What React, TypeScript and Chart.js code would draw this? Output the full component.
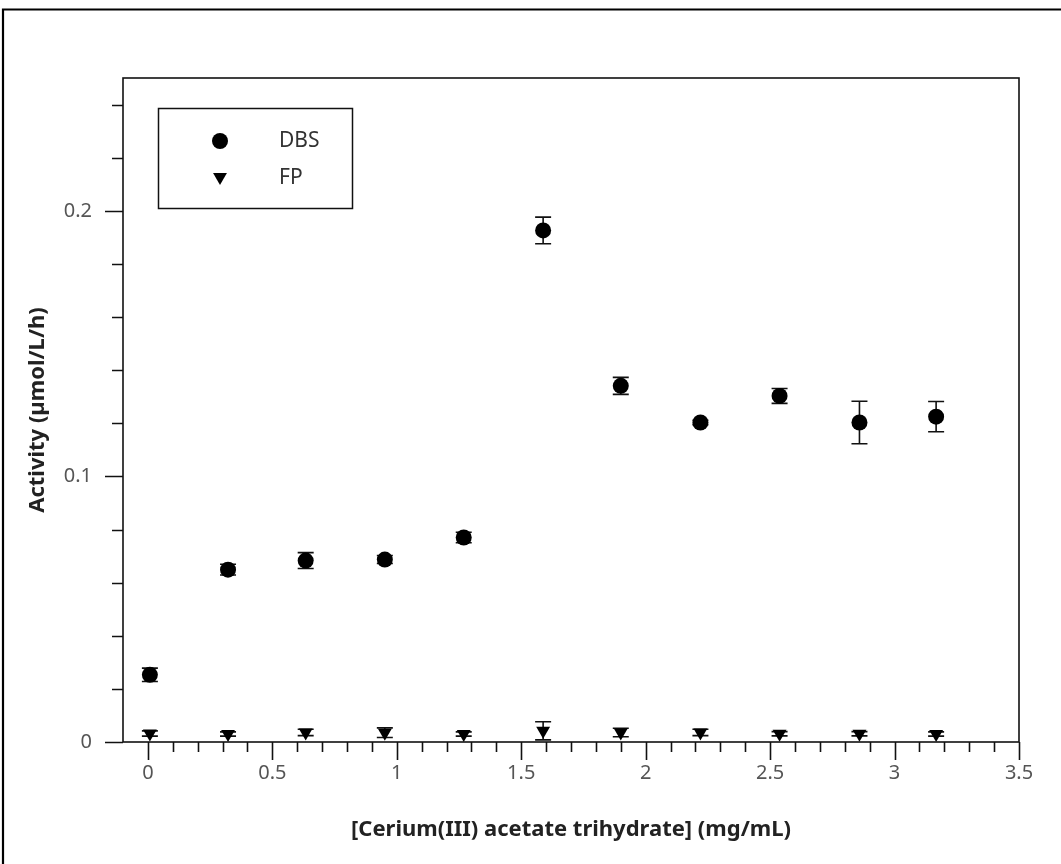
import React, { useEffect, useRef } from "react";
import { Chart, registerables } from "chart.js";

Chart.register(...registerables);

// ---- data ----
const concentrations = [0.008, 0.322, 0.634, 0.952, 1.269, 1.588, 1.9, 2.22, 2.538, 2.859, 3.167];
const dbsValues = [0.0253, 0.0649, 0.0683, 0.0687, 0.077, 0.1926, 0.1341, 0.1203, 0.1303, 0.1203, 0.1225];
const dbsErrors = [0.0025, 0.002, 0.003, 0.0015, 0.002, 0.005, 0.0032, 0.0008, 0.0028, 0.008, 0.0057];
const fpValues = [0.0032, 0.003, 0.0036, 0.0035, 0.003, 0.0042, 0.0036, 0.0036, 0.0031, 0.0031, 0.003];
const fpErrors = [0.001, 0.0008, 0.0012, 0.0018, 0.0008, 0.0034, 0.0016, 0.0012, 0.0008, 0.0008, 0.0008];

const xMajorTicks = [0, 0.5, 1, 1.5, 2, 2.5, 3, 3.5];
const xTickLabels = ["0", "0.5", "1", "1.5", "2", "2.5", "3", "3.5"];
const yMajorTicks = [0, 0.1, 0.2];
const yTickLabels = ["0", "0.1", "0.2"];

const seriesNames = ["DBS", "FP"];
const xTitle = "[Cerium(III) acetate trihydrate] (mg/mL)";
const yTitle = "Activity (µmol/L/h)";

const FONT = "'Noto Sans', 'Open Sans', sans-serif";

const near = (a: number, b: number) => Math.abs(a - b) < 1e-6;
const isMajor = (v: number, majors: number[]) => majors.some((m) => near(m, v));

function labelFor(v: number, majors: number[], labels: string[]) {
  const i = majors.findIndex((m) => near(m, v));
  return i >= 0 ? labels[i] : "";
}

const bgPlugin = {
  id: "bgFrame",
  beforeDraw(chart: any) {
    const ctx = chart.ctx;
    ctx.save();
    ctx.fillStyle = "#fff";
    ctx.fillRect(0, 0, chart.width, chart.height);
    ctx.strokeStyle = "#000";
    ctx.lineWidth = 2.2;
    ctx.beginPath();
    ctx.moveTo(3, chart.height);
    ctx.lineTo(3, 9.5);
    ctx.lineTo(chart.width, 9.5);
    ctx.stroke();
    ctx.restore();
  },
};

const errorPlugin = {
  id: "errorBars",
  beforeDatasetsDraw(chart: any) {
    const ctx = chart.ctx;
    const xs = chart.scales.x;
    const ys = chart.scales.y;
    ctx.save();
    ctx.strokeStyle = "#111";
    ctx.lineWidth = 1.6;
    chart.data.datasets.forEach((ds: any) => {
      const errs: number[] = ds.errors || [];
      ds.data.forEach((p: any, i: number) => {
        const e = errs[i] || 0;
        if (!e) return;
        const px = xs.getPixelForValue(p.x);
        const top = ys.getPixelForValue(p.y + e);
        const bot = ys.getPixelForValue(p.y - e);
        ctx.beginPath();
        ctx.moveTo(px, top);
        ctx.lineTo(px, bot);
        ctx.moveTo(px - 8, top);
        ctx.lineTo(px + 8, top);
        ctx.moveTo(px - 8, bot);
        ctx.lineTo(px + 8, bot);
        ctx.stroke();
      });
    });
    ctx.restore();
  },
};

function drawTriangleDown(ctx: CanvasRenderingContext2D, x: number, y: number, r: number) {
  ctx.beginPath();
  ctx.moveTo(x, y + r);
  ctx.lineTo(x - r * Math.sin(Math.PI / 3), y - r / 2);
  ctx.lineTo(x + r * Math.sin(Math.PI / 3), y - r / 2);
  ctx.closePath();
  ctx.fill();
}

const axesPlugin = {
  id: "axesFrame",
  afterDraw(chart: any) {
    const ctx = chart.ctx;
    const { left, right, top, bottom } = chart.chartArea;
    const xs = chart.scales.x;
    const ys = chart.scales.y;
    ctx.save();
    ctx.strokeStyle = "#111";
    ctx.lineWidth = 1.6;
    ctx.strokeRect(left, top, right - left, bottom - top);

    ctx.beginPath();
    xs.ticks.forEach((t: any) => {
      const v = t.value;
      if (v < -1e-6 || v > 3.5 + 1e-6) return;
      const px = Math.round(xs.getPixelForValue(v)) + 0.5;
      const len = isMajor(v, xMajorTicks) ? 18 : 10;
      ctx.moveTo(px, bottom);
      ctx.lineTo(px, bottom + len);
    });
    ys.ticks.forEach((t: any) => {
      const v = t.value;
      if (Math.abs(v / 0.02 - Math.round(v / 0.02)) > 1e-6) return;
      const py = Math.round(ys.getPixelForValue(v)) + 0.5;
      const len = isMajor(v, yMajorTicks) ? 18 : 11;
      ctx.moveTo(left, py);
      ctx.lineTo(left - len, py);
    });
    ctx.stroke();

    // legend
    const lx = left + 35;
    const ly = top + 30;
    ctx.lineWidth = 1.5;
    ctx.strokeRect(lx + 0.5, ly + 0.5, 194, 100);
    ctx.fillStyle = "#000";
    ctx.beginPath();
    ctx.arc(lx + 62, ly + 33, 8, 0, Math.PI * 2);
    ctx.fill();
    drawTriangleDown(ctx, lx + 62, ly + 69, 8);
    ctx.fillStyle = "#333";
    ctx.font = `21px ${FONT}`;
    ctx.textAlign = "left";
    ctx.textBaseline = "middle";
    ctx.fillText(seriesNames[0], lx + 121, ly + 33);
    ctx.fillText(seriesNames[1], lx + 121, ly + 70);
    ctx.restore();
  },
};

export default function App() {
  const ref = useRef<HTMLCanvasElement | null>(null);
  useEffect(() => {
    if (!ref.current) return;
    const chart = new Chart(ref.current, {
      type: "scatter",
      data: {
        datasets: [
          {
            label: seriesNames[0],
            data: concentrations.map((x, i) => ({ x, y: dbsValues[i] })),
            errors: dbsErrors,
            pointStyle: "circle",
            pointRadius: 8,
            pointHoverRadius: 8,
            backgroundColor: "#000",
            borderWidth: 0,
            showLine: false,
            clip: false,
          } as any,
          {
            label: seriesNames[1],
            data: concentrations.map((x, i) => ({ x, y: fpValues[i] })),
            errors: fpErrors,
            pointStyle: "triangle",
            rotation: 180,
            pointRadius: 8,
            pointHoverRadius: 8,
            backgroundColor: "#000",
            borderWidth: 0,
            showLine: false,
            clip: false,
          } as any,
        ],
      },
      options: {
        responsive: false,
        animation: false,
        layout: { padding: { left: 0, top: 78, right: 42, bottom: 0 } },
        plugins: { legend: { display: false }, tooltip: { enabled: false } },
        scales: {
          x: {
            type: "linear",
            position: "bottom",
            min: -0.1,
            max: 3.5,
            grid: { display: false, drawTicks: false },
            border: { display: false },
            ticks: {
              stepSize: 0.1,
              autoSkip: false,
              maxRotation: 0,
              padding: 19,
              color: "#555",
              font: { family: FONT, size: 20 },
              callback: (v: any) => labelFor(Number(v), xMajorTicks, xTickLabels),
            },
            title: {
              display: true,
              text: xTitle,
              color: "#222",
              font: { family: FONT, size: 22, weight: "bold" },
              padding: { top: 0, bottom: 21 },
            },
            afterFit: (s: any) => {
              s.height = 122;
            },
          },
          y: {
            type: "linear",
            position: "left",
            min: 0,
            max: 0.25,
            grid: { display: false, drawTicks: false },
            border: { display: false },
            ticks: {
              stepSize: 0.02,
              autoSkip: false,
              padding: 31,
              color: "#555",
              font: { family: FONT, size: 20 },
              callback: (v: any) => labelFor(Number(v), yMajorTicks, yTickLabels),
            },
            title: {
              display: true,
              text: yTitle,
              color: "#222",
              font: { family: FONT, size: 22, weight: "bold" },
              padding: { top: 25, bottom: 0 },
            },
            afterFit: (s: any) => {
              s.width = 123;
            },
          },
        },
      } as any,
      plugins: [bgPlugin, errorPlugin, axesPlugin],
    });
    return () => chart.destroy();
  }, []);

  return (
    <div style={{ position: "absolute", left: 0, top: 0, width: 1061, height: 864 }}>
      <canvas ref={ref} width={1061} height={864} style={{ display: "block" }} />
    </div>
  );
}
